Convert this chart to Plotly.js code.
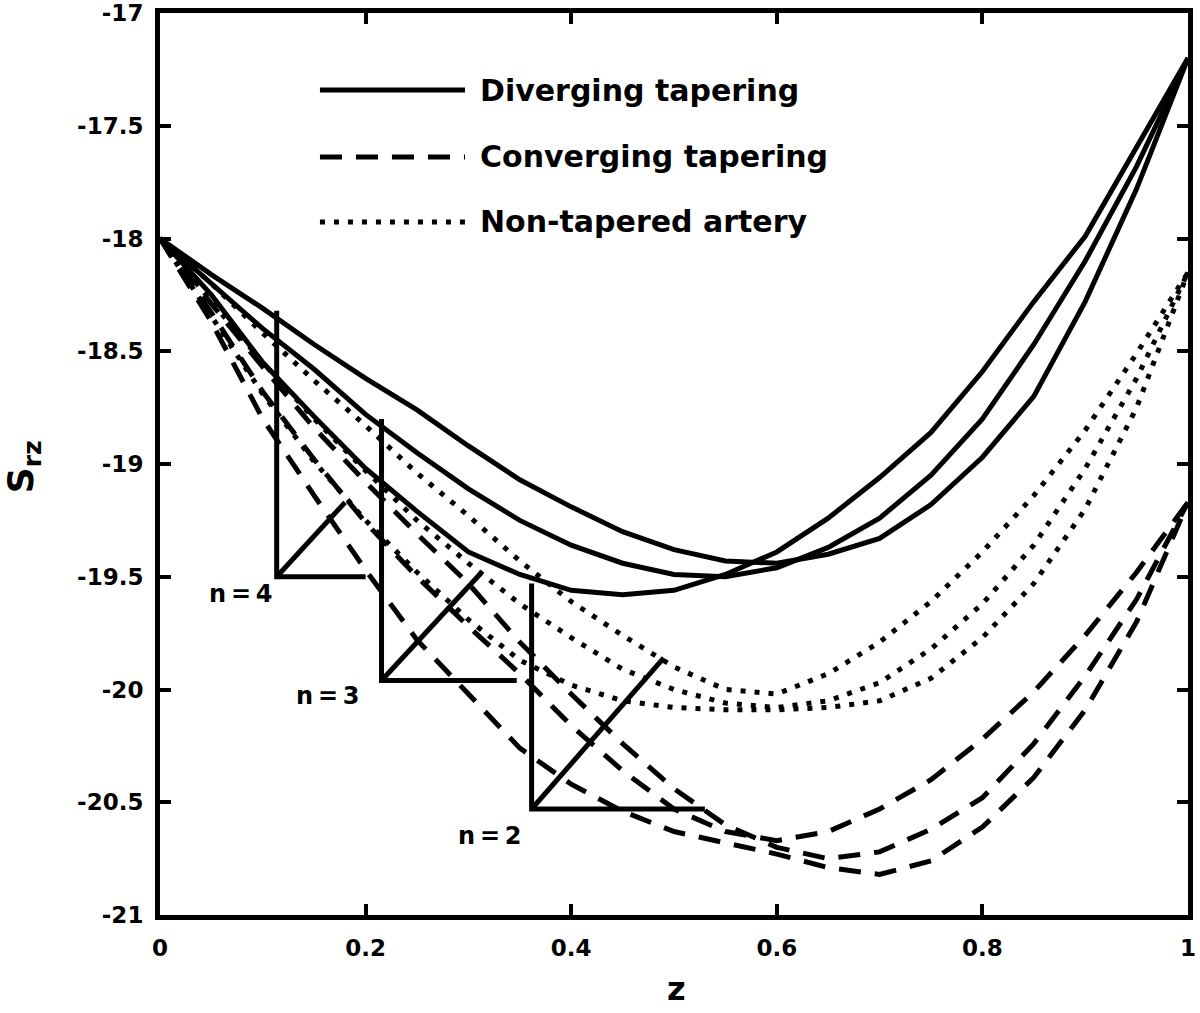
<!DOCTYPE html>
<html>
<head>
<meta charset="utf-8">
<script src="https://cdn.plot.ly/plotly-3.0.1.min.js"></script>
<style>
  html, body { margin: 0; padding: 0; background: #fff; }
  #chart { width: 1200px; height: 1013px; }
</style>
</head>
<body>
<div id="chart"></div>
<script>
// axial position along the artery
let zNodes = [0, 0.05, 0.1, 0.15, 0.2, 0.25, 0.3, 0.35, 0.4, 0.45, 0.5,
              0.55, 0.6, 0.65, 0.7, 0.75, 0.8, 0.85, 0.9, 0.95, 1];

// diverging tapering (solid)
let divA = [-18.00,-18.16,-18.31,-18.47,-18.62,-18.76,-18.92,-19.07,-19.19,-19.30,-19.38,
            -19.43,-19.44,-19.40,-19.33,-19.18,-18.97,-18.70,-18.28,-17.78,-17.20];
let divB = [-18.00,-18.20,-18.40,-18.58,-18.78,-18.95,-19.11,-19.25,-19.36,-19.44,-19.49,
            -19.50,-19.46,-19.37,-19.24,-19.05,-18.80,-18.47,-18.10,-17.68,-17.20];
let divC = [-18.00,-18.25,-18.55,-18.79,-19.02,-19.21,-19.39,-19.49,-19.56,-19.58,-19.56,
            -19.49,-19.39,-19.24,-19.06,-18.86,-18.59,-18.28,-17.99,-17.60,-17.20];

// converging tapering (dashed)
let conA = [-18.00,-18.33,-18.68,-18.98,-19.26,-19.50,-19.72,-19.93,-20.16,-20.36,-20.53,
            -20.63,-20.67,-20.63,-20.53,-20.40,-20.22,-20.01,-19.76,-19.48,-19.17];
let conB = [-18.00,-18.29,-18.57,-18.84,-19.08,-19.31,-19.53,-19.79,-20.02,-20.24,-20.44,
            -20.60,-20.70,-20.75,-20.72,-20.62,-20.48,-20.24,-19.94,-19.60,-19.17];
let conC = [-18.00,-18.37,-18.80,-19.14,-19.47,-19.78,-20.02,-20.26,-20.42,-20.54,-20.63,
            -20.68,-20.73,-20.79,-20.82,-20.76,-20.61,-20.39,-20.09,-19.70,-19.17];

// non-tapered artery (dotted)
let nonA = [-18.00,-18.20,-18.42,-18.63,-18.83,-19.04,-19.23,-19.43,-19.61,-19.76,-19.90,
            -20.00,-20.02,-19.93,-19.79,-19.61,-19.39,-19.14,-18.85,-18.51,-18.15];
let nonB = [-18.00,-18.28,-18.55,-18.80,-19.03,-19.25,-19.44,-19.62,-19.77,-19.91,-20.00,
            -20.06,-20.08,-20.05,-19.97,-19.82,-19.62,-19.36,-19.02,-18.62,-18.15];
let nonC = [-18.00,-18.35,-18.69,-18.99,-19.25,-19.48,-19.69,-19.87,-19.98,-20.05,-20.08,
            -20.09,-20.09,-20.08,-20.05,-19.95,-19.77,-19.53,-19.20,-18.75,-18.15];

// n = 4, 3, 2 markers (right angle + diagonal)
let nLabels = ['n\u2009=\u20094', 'n\u2009=\u20093', 'n\u2009=\u20092'];
let nLabelZ = [0.078, 0.163, 0.321];
let nLabelS = [-19.575, -20.03, -20.65];
let triCornerZ = [0.1135, 0.2155, 0.3615];
let triCornerS = [-19.50, -19.96, -20.53];
let triTopS = [-18.32, -18.80, -19.53];
let triHorizEndZ = [0.200, 0.347, 0.530];
let triDiagEndZ = [0.180, 0.313, 0.490];
let triDiagEndS = [-19.17, -19.48, -19.86];

let legendNames = ['Diverging tapering', 'Converging tapering', 'Non-tapered artery'];

let xTicks = [0, 0.2, 0.4, 0.6, 0.8, 1];
let xTickText = ['0', '0.2', '0.4', '0.6', '0.8', '1'];
let yTicks = [-21, -20.5, -20, -19.5, -19, -18.5, -18, -17.5, -17];
let yTickText = ['-21', '-20.5', '-20', '-19.5', '-19', '-18.5', '-18', '-17.5', '-17'];

const FONT = 'DejaVu Sans, Arial, sans-serif';
const LW = 5;
const DASH = '22px,14px';
const DOT = '5px,9px';

let curve = (y, dash) => ({
    x: zNodes, y: y, type: 'scatter', mode: 'lines',
    line: {color: '#000', width: LW, dash: dash},
    hoverinfo: 'skip', showlegend: false
});

let dataDraw = [
    curve(nonA, DOT), curve(nonB, DOT), curve(nonC, DOT),
    curve(conA, DASH), curve(conB, DASH), curve(conC, DASH),
    curve(divA, 'solid'), curve(divB, 'solid'), curve(divC, 'solid')
];

// triangles for each n
triCornerZ.forEach((cz, i) => {
    dataDraw.push({
        x: [cz, cz, triHorizEndZ[i], null, cz, triDiagEndZ[i]],
        y: [triTopS[i], triCornerS[i], triCornerS[i], null, triCornerS[i], triDiagEndS[i]],
        type: 'scatter', mode: 'lines', connectgaps: false,
        line: {color: '#000', width: LW},
        hoverinfo: 'skip', showlegend: false
    });
});

let annotations = nLabels.map((t, i) => ({
    x: nLabelZ[i], y: nLabelS[i], xref: 'x', yref: 'y',
    text: t, showarrow: false, xanchor: 'center', yanchor: 'middle',
    font: {family: FONT, size: 24, weight: 'bold', color: '#000'}
}));

// legend drawn by hand: long sample lines like the original
let legendY = [0.9146, 0.8404, 0.7683];
let legendDash = ['solid', DASH, DOT];
let shapes = [];
legendNames.forEach((name, i) => {
    shapes.push({
        type: 'line', xref: 'paper', yref: 'paper',
        x0: 0.1556, x1: 0.2967, y0: legendY[i], y1: legendY[i],
        line: {color: '#000', width: LW, dash: legendDash[i]}
    });
    annotations.push({
        x: 0.3093, y: legendY[i], xref: 'paper', yref: 'paper',
        text: name, showarrow: false, xanchor: 'left', yanchor: 'middle',
        font: {family: FONT, size: 30, weight: 'bold', color: '#000'}
    });
});

// axis titles
annotations.push({
    x: 0.502, y: -0.082, xref: 'paper', yref: 'paper',
    text: 'z', showarrow: false, xanchor: 'center', yanchor: 'middle',
    font: {family: FONT, size: 32, weight: 'bold', color: '#000'}
});
annotations.push({
    x: -0.132, y: 0.4967, xref: 'paper', yref: 'paper',
    text: 'S<sub>rz</sub>', showarrow: false, textangle: -90,
    xanchor: 'center', yanchor: 'middle',
    font: {family: FONT, size: 36, weight: 'bold', color: '#000'}
});

let axis = (range, vals, text, standoff) => ({
    range: range, tickvals: vals, ticktext: text,
    ticks: 'inside', ticklen: 11, tickwidth: 4, tickcolor: '#000',
    showline: true, linewidth: 5, linecolor: '#000', mirror: 'ticks',
    showgrid: false, zeroline: false, ticklabelstandoff: standoff,
    tickfont: {family: FONT, size: 23, weight: 'bold', color: '#000'}
});

let layout = {
    width: 1200, height: 1013, autosize: false,
    margin: {l: 160, r: 12, t: 13, b: 98, pad: 0},
    paper_bgcolor: '#fff', plot_bgcolor: '#fff',
    showlegend: false,
    xaxis: axis([0, 1], xTicks, xTickText, 8),
    yaxis: axis([-21, -17], yTicks, yTickText, 7),
    shapes: shapes,
    annotations: annotations
};

Plotly.newPlot('chart', dataDraw, layout, {staticPlot: true, displayModeBar: false});
</script>
</body>
</html>
